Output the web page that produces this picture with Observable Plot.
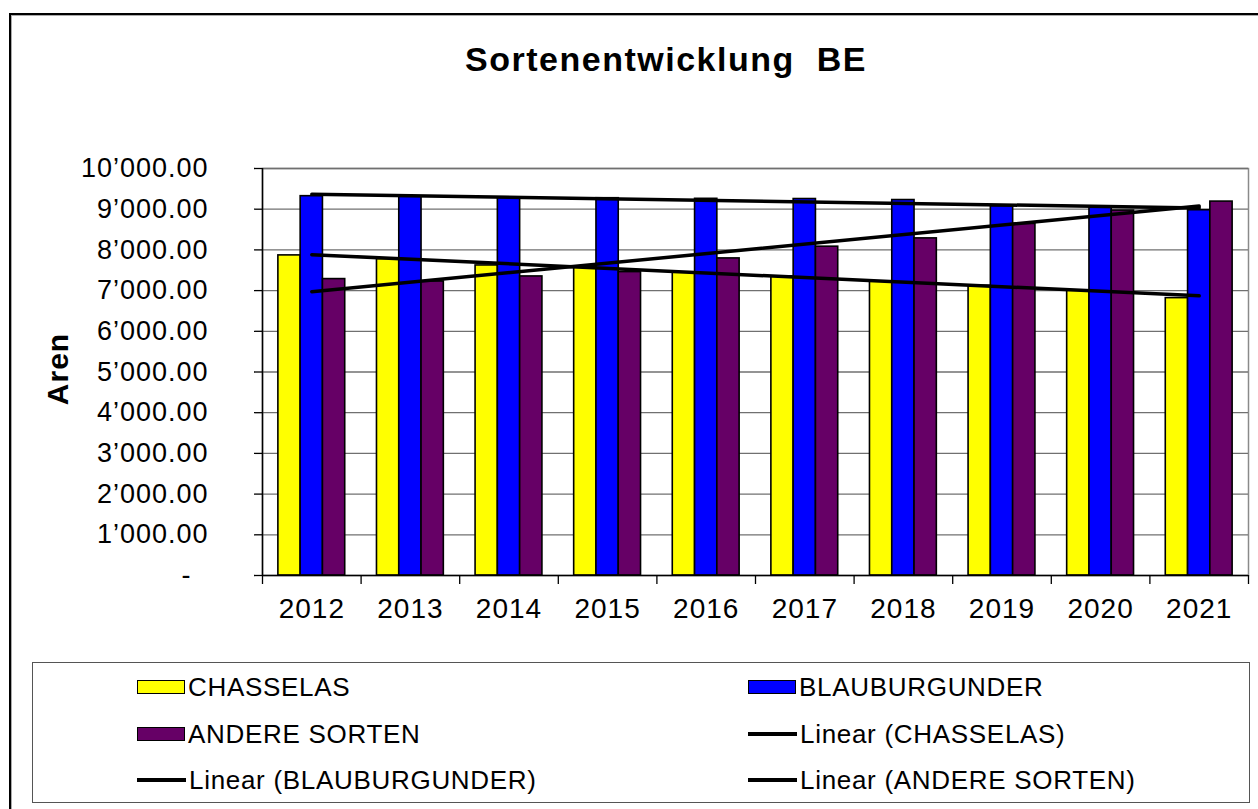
<!DOCTYPE html>
<html>
<head>
<meta charset="utf-8">
<script src="https://cdn.jsdelivr.net/npm/d3@7"></script>
<script src="https://cdn.jsdelivr.net/npm/@observablehq/plot@0.6"></script>
<style>
  html, body { margin: 0; padding: 0; background: #fff; }
  #chart { position: relative; width: 1258px; height: 809px; overflow: hidden; font-family: "Liberation Sans", Arial, sans-serif; color: #000; }
  #outer { position: absolute; left: 9px; top: 13px; width: 1260px; height: 800px; border-left: 2px solid #000; border-top: 2px solid #000; box-shadow: inset 1px 1px 0 #aaa; }
  #title { position: absolute; left: 666px; top: 42px; transform: translateX(-50%); font-size: 34px; line-height: 34px; font-weight: bold; letter-spacing: 1.5px; white-space: pre; }
  #ylabel { position: absolute; left: 58px; top: 369px; transform: translate(-50%, -50%) rotate(-90deg); font-size: 30px; line-height: 30px; font-weight: bold; letter-spacing: 1px; white-space: nowrap; }
  #plot { position: absolute; left: 0; top: 140px; }
  #plot svg text { letter-spacing: 1px; }
  #legend { position: absolute; left: 32px; top: 662px; width: 1216px; height: 139px; border: 1.5px solid #555; box-sizing: content-box; }
  .item { position: absolute; display: flex; align-items: center; height: 26px; font-size: 26px; line-height: 26px; letter-spacing: 0.7px; white-space: nowrap; }
  .sw { width: 46px; height: 12px; border: 1.5px solid #000; margin-right: 3px; }
  .ln { width: 49px; height: 4px; background: #000; margin-right: 3px; }
</style>
</head>
<body>
<div id="chart">
  <div id="outer"></div>
  <div id="title">Sortenentwicklung  BE</div>
  <div id="ylabel">Aren</div>
  <div id="plot"></div>
  <div id="legend"></div>
</div>
<script>
// ---- data ----
const years = [2012, 2013, 2014, 2015, 2016, 2017, 2018, 2019, 2020, 2021];
const chasselas = [7865, 7776, 7618, 7569, 7446, 7348, 7224, 7118, 6995, 6815];
const blauburgunder = [9320, 9305, 9290, 9270, 9255, 9250, 9225, 9075, 9035, 8975];
const andereSorten = [7283, 7224, 7348, 7455, 7791, 8079, 8283, 8638, 8966, 9187];
const seriesNames = ["CHASSELAS", "BLAUBURGUNDER", "ANDERE SORTEN"];
const seriesColors = ["#FFFF00", "#0000FF", "#660066"];
const yTicks = [0, 1000, 2000, 3000, 4000, 5000, 6000, 7000, 8000, 9000, 10000];
const legendLabels = ["CHASSELAS", "BLAUBURGUNDER", "ANDERE SORTEN", "Linear (CHASSELAS)", "Linear (BLAUBURGUNDER)", "Linear (ANDERE SORTEN)"];

// ---- build table ----
const seriesValues = [chasselas, blauburgunder, andereSorten];
const data = [];
seriesNames.forEach((s, si) => {
  years.forEach((yr, i) => data.push({ year: yr, series: s, si, value: seriesValues[si][i] }));
});

const BAR = 0.226; // bar width as fraction of a category
const boundaries = years.map(y => y - 0.5).concat([years[years.length - 1] + 0.5]);
const fmtY = d => d === 0 ? "-\u00a0\u00a0" : d3.format(",.2f")(d).replace(/,/g, "\u2019");

const plot = Plot.plot({
  width: 1258,
  height: 500,
  marginLeft: 262,
  marginRight: 10,
  marginTop: 28,
  marginBottom: 65,
  style: { fontFamily: "'Liberation Sans', Arial, sans-serif", fontSize: "27px", color: "#000", background: "transparent", overflow: "visible" },
  x: { type: "linear", domain: [boundaries[0], boundaries[boundaries.length - 1]], label: null },
  y: { domain: [0, 10000], label: null },
  color: { domain: seriesNames, range: seriesColors },
  marks: [
    Plot.frame({ stroke: "#8a8a8a", strokeWidth: 1.5 }),
    Plot.gridY(yTicks.filter(d => d > 0), { stroke: "#707070", strokeOpacity: 1, strokeWidth: 1.3 }),
    Plot.rect(data, {
      x1: d => d.year + (d.si - 1.5) * BAR,
      x2: d => d.year + (d.si - 0.5) * BAR,
      y1: 0,
      y2: "value",
      fill: "series",
      stroke: "#000",
      strokeWidth: 1.6
    }),
    Plot.linearRegressionY(data, { x: "year", y: "value", z: "series", stroke: "#000", strokeWidth: 3.5, ci: 0 }),
    Plot.ruleY([0], { stroke: "#000", strokeWidth: 1.5 }),
    Plot.ruleX([boundaries[0]], { stroke: "#000", strokeWidth: 1.5 }),
    Plot.axisY(yTicks, { anchor: "left", label: null, tickSize: 8, tickPadding: 46, tickFormat: fmtY, fontSize: 27, strokeWidth: 1.3 }),
    Plot.axisX(boundaries, { anchor: "bottom", label: null, tickSize: 9, tickFormat: () => "", strokeWidth: 1.3 }),
    Plot.axisX(years, { anchor: "bottom", label: null, tickSize: 0, tickPadding: 23, tickFormat: d => String(d), fontSize: 28 })
  ]
});
document.getElementById("plot").appendChild(plot);

// ---- legend ----
const legend = document.getElementById("legend");
const rowCenters = [24, 71, 117];
const colX = [104, 715];
legendLabels.forEach((lab, i) => {
  const row = Math.floor(i / 2), col = i % 2;
  const item = document.createElement("div");
  item.className = "item";
  item.style.left = colX[col] + "px";
  item.style.top = (rowCenters[row] - 13) + "px";
  const sw = document.createElement("div");
  if (i < 3) {
    sw.className = "sw";
    sw.style.background = seriesColors[seriesNames.indexOf(lab)];
  } else {
    sw.className = "ln";
  }
  item.appendChild(sw);
  const t = document.createElement("span");
  t.textContent = lab;
  item.appendChild(t);
  legend.appendChild(item);
});
</script>
</body>
</html>
